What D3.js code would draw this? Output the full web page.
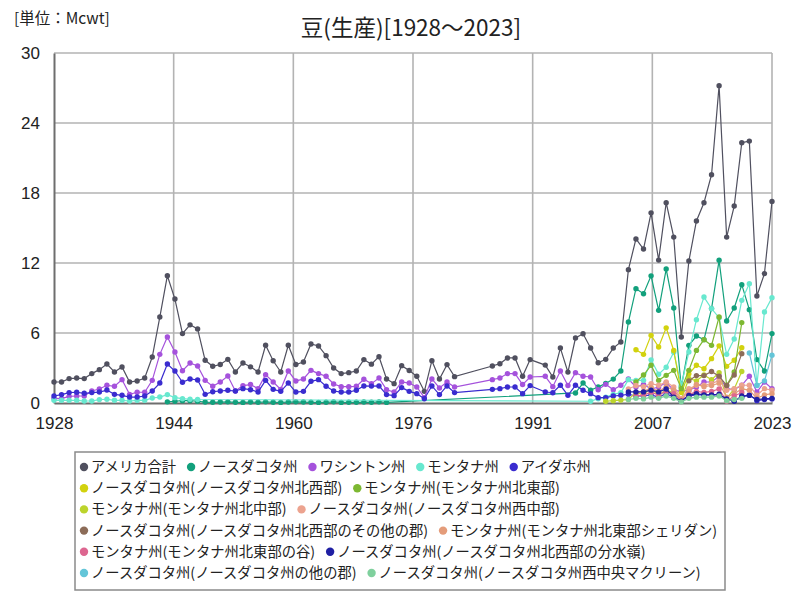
<!DOCTYPE html>
<html><head><meta charset="utf-8">
<script src="https://cdn.jsdelivr.net/npm/d3@7"></script>
<style>
body{margin:0;background:#fff;}
svg{display:block;}
</style></head>
<body>
<svg id="c" width="800" height="600"></svg>
<script>
const _ = null;
const title = "豆(生産)[1928～2023]";
const unitLabel = "[単位：Mcwt]";
const yTicks = [0, 6, 12, 18, 24, 30];
const xTickLabels = ["1928", "1944", "1960", "1976", "1991", "2007", "2023"];

const years = [
 1928,1929,1930,1931,1932,1933,1934,1935,1936,1937,1938,1939,1940,1941,1942,1943,1944,1945,1946,1947,
 1948,1949,1950,1951,1952,1953,1954,1955,1956,1957,1958,1959,1960,1961,1962,1963,1964,1965,1966,1967,
 1968,1969,1970,1971,1972,1973,1974,1975,1976,1977,1978,1979,1980,1981,
 1986,1987,1988,1989,1990,1991,
 1993,1994,1995,1996,1997,1998,1999,2000,2001,2002,2003,2004,2005,2006,2007,2008,2009,2010,2011,2012,2013,2014,2015,2016,2017,2018,2019,2020,2021,2022,2023
];
const yearsLate = [2001,2002,2003,2004,2005,2006,2007,2008,2009,2010,2011,2012,2013,2014,2015,2016,2017,2018,2019,2020,2021,2022,2023];

const usa = [
 1.8,1.8,2.09,2.14,2.09,2.52,2.86,3.34,2.66,3.09,1.8,1.89,2.14,3.94,7.37,10.91,8.91,5.95,6.7,6.35,
 3.66,3.15,3.3,3.74,2.66,3.43,3.1,2.66,4.95,3.62,2.66,4.95,3.3,3.51,5.06,4.89,4.06,3.0,2.52,2.6,
 2.74,3.72,3.33,3.97,2.06,1.66,3.2,2.78,2.29,1.0,3.63,2.06,3.29,2.26,
 3.17,3.37,3.86,3.86,2.29,3.72,
 3.25,2.23,4.71,2.65,5.57,5.93,4.71,3.45,3.74,4.71,5.23,11.43,14.06,13.2,16.3,12.25,17.17,14.22,5.66,12.17,15.6,17.17,19.57,27.2,14.22,16.88,22.31,22.45,9.17,11.09,17.28
];
const northDakota = [
 _,_,_,_,_,_,_,_,_,_,_,_,_,_,_,0.1,0.15,0.2,0.2,0.15,
 0.08,0.06,0.08,0.1,0.06,0.05,0.08,0.06,0.1,0.06,0.05,0.08,0.1,0.08,0.06,0.05,0.06,0.1,0.05,0.06,
 0.06,0.08,0.06,0.1,0.05,_,_,_,_,_,_,_,_,_,
 _,_,_,_,_,_,
 _,_,_,_,0.86,1.71,1.1,1.37,1.68,2.05,2.74,6.94,9.8,9.37,10.9,7.94,11.48,8.14,1.37,4.94,5.74,5.43,8.09,12.23,7.03,8.14,10.14,8.0,3.72,2.74,5.95
];
const washington = [
 0.4,0.37,0.57,0.6,0.6,1.03,1.2,1.52,1.43,2.0,0.74,0.92,0.92,1.94,4.17,5.66,4.37,2.77,3.43,3.17,
 1.94,1.43,1.8,2.31,1.03,1.49,1.58,1.23,2.43,1.8,1.17,2.74,1.89,2.06,2.8,2.52,2.29,1.63,1.4,1.4,
 1.43,2.03,1.66,2.14,1.14,0.94,1.8,1.71,1.37,0.46,2.06,1.29,1.8,1.37,
 2.0,2.14,2.52,2.52,1.58,2.23,
 2.29,1.4,2.74,1.5,2.6,2.29,2.23,1.14,1.6,1.14,1.52,2.06,1.37,1.6,1.2,1.37,1.75,1.09,1.0,1.09,1.37,1.8,1.8,2.29,1.23,1.14,1.52,2.29,0.94,1.8,1.23
];
const montana = [
 0.23,0.23,0.23,0.23,0.17,0.17,0.29,0.32,0.23,0.23,0.17,0.23,0.23,0.43,0.51,0.72,0.46,0.37,0.32,0.3,
 _,_,_,_,_,_,_,_,_,_,_,_,_,_,_,_,_,_,_,_,
 _,_,_,_,_,_,_,_,_,_,_,_,_,_,
 _,_,_,_,_,_,
 _,_,_,_,_,_,0.15,0.37,0.5,0.74,0.89,2.0,1.94,1.94,3.7,2.46,3.07,4.35,1.52,4.37,7.14,9.08,8.09,7.31,4.17,5.49,8.8,10.23,1.52,7.8,9.03
];
const idaho = [
 0.6,0.72,0.89,0.92,0.83,0.89,0.94,1.11,0.74,0.66,0.51,0.51,0.6,1.03,1.71,3.34,2.74,1.78,2.06,1.97,
 0.74,0.97,1.03,1.09,1.03,1.23,1.14,0.94,1.94,1.17,1.0,1.71,0.94,1.0,1.86,2.0,1.43,1.03,0.94,0.94,
 1.09,1.46,1.45,1.46,0.72,0.63,1.32,1.0,0.8,0.37,1.46,0.72,1.46,0.89,
 1.17,1.23,1.37,1.37,0.8,1.49,
 0.94,0.88,1.52,0.66,1.52,1.09,0.8,0.46,0.46,0.6,0.66,0.75,0.6,0.6,0.7,0.5,0.8,0.5,0.2,0.6,0.7,0.7,0.7,0.7,0.3,0.2,0.5,0.7,0.2,0.3,0.35
];
// county series, aligned to yearsLate
const ndNorthwest   = [_,_,_,_,4.57,4.17,5.8,4.8,6.44,4.5,0.9,2.5,3.23,2.94,3.8,4.9,3.14,3.66,4.74,_,_,_,_];
const mtNortheast   = [_,_,_,_,1.8,2.4,3.23,1.94,2.37,2.8,1.23,2.8,4.51,5.43,4.94,7.37,1.52,2.66,6.89,_,_,_,_];
const mtNorthCentral= [0.15,0.2,0.25,0.3,0.9,0.7,1.3,0.6,1.2,0.8,0.3,2.1,1.9,2.4,2.0,2.6,0.4,1.2,2.7,_,_,_,_];
const ndWestCentral = [_,_,_,1.2,1.5,1.4,1.66,1.52,1.8,1.37,0.37,1.23,1.52,1.52,1.66,1.94,1.09,1.23,1.52,1.52,0.66,1.23,1.09];
const ndNwOther     = [_,_,_,_,_,_,_,_,_,_,_,1.9,2.35,2.35,2.7,2.3,1.5,2.4,4.23,_,_,_,_];
const mtSheridan    = [_,_,_,_,0.9,1.0,1.3,1.0,1.4,1.1,0.3,1.0,1.6,1.4,1.5,1.7,0.5,0.8,1.2,1.1,0.4,0.7,0.8];
const mtValley      = [_,_,_,_,0.6,0.7,0.9,0.7,1.0,0.8,0.2,0.7,1.0,0.9,1.0,1.2,0.15,0.6,0.9,_,_,_,_];
const ndWatershed   = [_,_,_,0.95,0.95,0.95,1.1,0.95,1.2,0.5,0.15,0.65,0.8,0.7,0.7,0.75,0.35,0.15,0.6,0.65,0.3,0.35,0.4];
const ndOther       = [_,_,_,_,_,_,_,_,_,_,_,_,_,_,_,_,_,_,_,4.29,1.5,1.9,4.1];
const ndMcLean      = [_,_,_,0.3,0.4,0.35,0.5,0.4,0.6,0.4,0.1,0.4,0.5,0.5,0.5,0.6,0.2,0.3,0.4,_,_,_,_];

const seriesNames = [
 "アメリカ合計","ノースダコタ州","ワシントン州","モンタナ州","アイダホ州",
 "ノースダコタ州(ノースダコタ州北西部)","モンタナ州(モンタナ州北東部)",
 "モンタナ州(モンタナ州北中部)","ノースダコタ州(ノースダコタ州西中部)",
 "ノースダコタ州(ノースダコタ州北西部のその他の郡)","モンタナ州(モンタナ州北東部シェリダン)",
 "モンタナ州(モンタナ州北東部の谷)","ノースダコタ州(ノースダコタ州北西部の分水嶺)",
 "ノースダコタ州(ノースダコタ州の他の郡)","ノースダコタ州(ノースダコタ州西中央マクリーン)"
];
const seriesColors = ["#50505f","#12a07c","#a552dc","#68e8cf","#3a2ccf",
 "#d2d20e","#7db832","#bcd42c","#eca38f","#8c6c58","#e49c7a","#dd6690","#1f1fa3","#63c5d8","#7fd09d"];
const seriesValues = [usa,northDakota,washington,montana,idaho,ndNorthwest,mtNortheast,mtNorthCentral,
 ndWestCentral,ndNwOther,mtSheridan,mtValley,ndWatershed,ndOther,ndMcLean];
const seriesYears = [years,years,years,years,years,yearsLate,yearsLate,yearsLate,yearsLate,yearsLate,yearsLate,yearsLate,yearsLate,yearsLate,yearsLate];
const legendRows = [[0,1,2,3,4],[5,6],[7,8],[9,10],[11,12],[13,14]];

seriesValues.forEach((v,i)=>{ if (v.length !== seriesYears[i].length) throw new Error("length mismatch " + seriesNames[i] + " " + v.length + " vs " + seriesYears[i].length); });

const svg = d3.select("#c");
const L = 54, R = 772, T = 53, B = 403;
const x = d3.scaleLinear().domain([1928, 2023]).range([L, R]);
const y = d3.scaleLinear().domain([0, 30]).range([B, T]);
const xTickVals = xTickLabels.map((d,i)=> 1928 + i*95/6);

// grid
const grid = svg.append("g");
grid.selectAll("line.h").data(yTicks.slice(1)).join("line")
  .attr("x1", L).attr("x2", R).attr("y1", d=>y(d)).attr("y2", d=>y(d))
  .attr("stroke", "#b3b3b3").attr("stroke-width", 1.6);
grid.selectAll("line.v").data(xTickVals.slice(1)).join("line")
  .attr("x1", d=>x(d)).attr("x2", d=>x(d)).attr("y1", T).attr("y2", B)
  .attr("stroke", "#b3b3b3").attr("stroke-width", 1.6);

// axes
const yAxis = d3.axisLeft(y).tickValues(yTicks).tickSize(0).tickPadding(14).tickFormat(d3.format("d"));
const gy = svg.append("g").attr("transform", `translate(${L},0)`).call(yAxis);
gy.select(".domain").attr("stroke", "#6e6e6e").attr("stroke-width", 2);
gy.selectAll("text").attr("font-family", "'Liberation Sans', Arial, sans-serif").attr("font-size", 17).attr("fill", "#222");

const xAxis = d3.axisBottom(x).tickValues(xTickVals).tickSize(0).tickPadding(14).tickFormat((d,i)=>xTickLabels[i]);
const gx = svg.append("g").attr("transform", `translate(0,${B})`).call(xAxis);
gx.select(".domain").attr("stroke", "#6e6e6e").attr("stroke-width", 2);
gx.selectAll("text").attr("font-family", "'Liberation Sans', Arial, sans-serif").attr("font-size", 17).attr("fill", "#222");

// series
const line = d3.line().x(d=>x(d[0])).y(d=>y(d[1]));
const plot = svg.append("g");
seriesValues.forEach((vals, i) => {
  const pts = seriesYears[i].map((yr,j)=>[yr, vals[j]]).filter(d=>d[1] !== null);
  const g = plot.append("g");
  g.append("path").datum(pts).attr("d", line).attr("fill","none")
    .attr("stroke", seriesColors[i]).attr("stroke-width", 1.2);
  g.selectAll("circle").data(pts).join("circle")
    .attr("cx", d=>x(d[0])).attr("cy", d=>y(d[1])).attr("r", 2.7)
    .attr("fill", seriesColors[i]);
});

// titles
svg.append("text").attr("x", 411).attr("y", 36).attr("text-anchor","middle")
  .attr("font-family","'Noto Sans CJK JP', sans-serif").attr("font-size", 22.5).attr("fill","#222").text(title);
svg.append("text").attr("x", 14).attr("y", 24)
  .attr("font-family","'Noto Sans CJK JP', sans-serif").attr("font-size", 15.5).attr("fill","#222").text(unitLabel);

// legend
const lg = svg.append("g");
lg.append("rect").attr("x", 75).attr("y", 452).attr("width", 650).attr("height", 138)
  .attr("fill","#fff").attr("stroke","#8a8a8a").attr("stroke-width", 1.5);
legendRows.forEach((row, r) => {
  let cx = 84;
  const cy = 467 + r*21.2;
  row.forEach(i => {
    lg.append("circle").attr("cx", cx).attr("cy", cy).attr("r", 4.2).attr("fill", seriesColors[i]);
    const t = lg.append("text").attr("x", cx + 7).attr("y", cy + 5)
      .attr("font-family","'Noto Sans CJK JP', sans-serif").attr("font-size", 14.3).attr("fill","#222")
      .text(seriesNames[i]);
    cx = cx + 7 + t.node().getComputedTextLength() + 15;
  });
});
</script>
</body></html>
